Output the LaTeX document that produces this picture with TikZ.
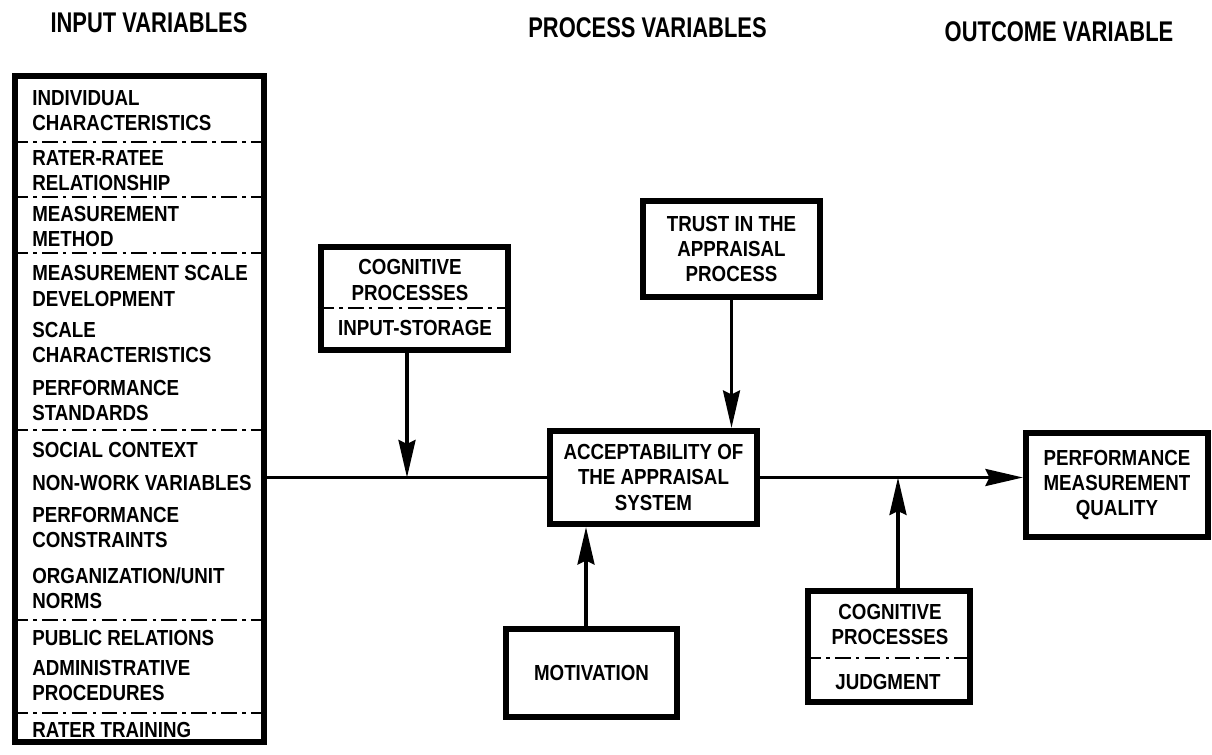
\documentclass[tikz,border=0pt]{standalone}
\usepackage{fontspec}
\setmainfont{Liberation Sans}
\newfontfamily\boxfont{Liberation Sans}[FakeStretch=0.86]
\newfontfamily\headfont{Liberation Sans}[FakeStretch=0.77]
\usetikzlibrary{arrows.meta}
\begin{document}
\begin{tikzpicture}[
    font=\boxfont\bfseries\fontsize{12.4}{14.4}\selectfont,
    box/.style={draw,line width=3.5pt,inner sep=0pt,align=center},
    item/.style={anchor=west,inner sep=0pt,align=left},
    boxtext/.style={inner sep=0pt,align=center},
    heading/.style={inner sep=0pt,font=\headfont\bfseries\fontsize{16.2}{18}\selectfont},
    divider/.style={line width=1.6pt,dash pattern=on 9pt off 3pt on 2pt off 3pt},
    link/.style={line width=1.8pt},
    arrowlink/.style={link,-{Stealth[length=7.5mm,width=3.4mm,inset=0.8mm]}}
]
    \useasboundingbox (0,0) rectangle (24.24,15.1);
    \node[heading] (inhead) at (2.98,14.64) {INPUT VARIABLES};
    \node[heading] (prochead) at (12.95,14.54) {PROCESS VARIABLES};
    \node[heading] (outhead) at (21.18,14.46) {OUTCOME VARIABLE};

    \node[box,minimum width=4.98cm,minimum height=13.32cm] (inputs) at (2.79,6.92) {};
    \node[item] (indiv) at (0.64,12.89) {INDIVIDUAL\\CHARACTERISTICS};
    \node[item] (rater) at (0.64,11.69) {RATER-RATEE\\RELATIONSHIP};
    \node[item] (method) at (0.64,10.57) {MEASUREMENT\\METHOD};
    \node[item] (scaledev) at (0.64,9.38) {MEASUREMENT SCALE\\DEVELOPMENT};
    \node[item] (scalechar) at (0.64,8.25) {SCALE\\CHARACTERISTICS};
    \node[item] (standards) at (0.64,7.09) {PERFORMANCE\\STANDARDS};
    \node[item] (social) at (0.64,6.10) {SOCIAL CONTEXT};
    \node[item] (nonwork) at (0.64,5.44) {NON-WORK VARIABLES};
    \node[item] (constraints) at (0.64,4.55) {PERFORMANCE\\CONSTRAINTS};
    \node[item] (norms) at (0.64,3.33) {ORGANIZATION/UNIT\\NORMS};
    \node[item] (public) at (0.64,2.34) {PUBLIC RELATIONS};
    \node[item] (admin) at (0.64,1.49) {ADMINISTRATIVE\\PROCEDURES};
    \node[item] (training) at (0.64,0.50) {RATER TRAINING};
    \draw[divider] (inputs.west |- 0,12.26) -- (inputs.east |- 0,12.26);
    \draw[divider] (inputs.west |- 0,11.16) -- (inputs.east |- 0,11.16);
    \draw[divider] (inputs.west |- 0,10.04) -- (inputs.east |- 0,10.04);
    \draw[divider] (inputs.west |- 0,6.50) -- (inputs.east |- 0,6.50);
    \draw[divider] (inputs.west |- 0,2.70) -- (inputs.east |- 0,2.70);
    \draw[divider] (inputs.west |- 0,0.84) -- (inputs.east |- 0,0.84);

    \node[box,minimum width=3.74cm,minimum height=2.06cm] (storage) at (8.29,9.13) {};
    \node[boxtext] (storagetop) at (8.2,9.5) {COGNITIVE\\PROCESSES};
    \node[boxtext] (storagebot) at (8.3,8.54) {INPUT-STORAGE};
    \draw[divider] (storage.west |- 0,8.94) -- (storage.east |- 0,8.94);

    \node[box,minimum width=3.54cm,minimum height=1.92cm] (trust) at (14.63,10.12) {TRUST IN THE\\APPRAISAL\\PROCESS};
    \node[box,minimum width=4.14cm,minimum height=1.86cm] (accept) at (13.07,5.55) {ACCEPTABILITY OF\\THE APPRAISAL\\SYSTEM};
    \node[box,minimum width=3.42cm,minimum height=1.76cm] (motiv) at (11.83,1.64) {MOTIVATION};
    \node[box,minimum width=3.64cm,minimum height=2.08cm] (quality) at (22.34,5.4) {PERFORMANCE\\MEASUREMENT\\QUALITY};

    \node[box,minimum width=3.24cm,minimum height=2.22cm] (judg) at (17.78,2.17) {};
    \node[boxtext] (judgtop) at (17.8,2.61) {COGNITIVE\\PROCESSES};
    \node[boxtext] (judgbot) at (17.76,1.46) {JUDGMENT};
    \draw[divider] (judg.west |- 0,1.94) -- (judg.east |- 0,1.94);

    \draw[link] (inputs.east |- accept.west) -- (accept.west);
    \draw[arrowlink] ([xshift=-0.15cm]storage.south) -- ([xshift=-0.15cm]storage.south |- accept.west);
    \draw[arrowlink] (trust.south) -- (trust.south |- accept.north);
    \draw[arrowlink] ([xshift=-0.11cm]motiv.north) -- ([xshift=-0.11cm]motiv.north |- accept.south);
    \draw[arrowlink] (accept.east) -- (accept.east -| quality.west);
    \draw[arrowlink] ([xshift=0.18cm]judg.north) -- ([xshift=0.18cm]judg.north |- accept.east);
\end{tikzpicture}
\end{document}
